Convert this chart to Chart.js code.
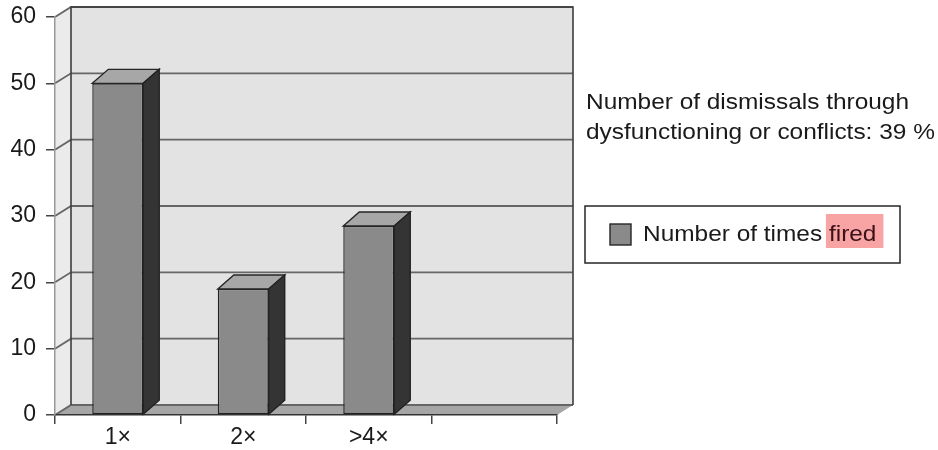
<!DOCTYPE html>
<html>
<head>
<meta charset="utf-8">
<script src="https://cdn.jsdelivr.net/npm/chart.js@4"></script>
<style>
  html, body { margin: 0; padding: 0; background: #ffffff; }
  #wrap { position: relative; width: 938px; height: 450px; }
</style>
</head>
<body>
<div id="wrap"><canvas id="c" width="938" height="450"></canvas></div>
<script>
// Categories and values
const categories = ['1\u00d7', '2\u00d7', '>4\u00d7', ''];
const timesFired = [50, 19, 28.5, null];
const yTickValues = [0, 10, 20, 30, 40, 50, 60];
const seriesLabel = 'Number of times fired';
const highlightWord = 'fired';
const noteLines = ['Number of dismissals through', 'dysfunctioning or conflicts: 39 %'];

const FONT = '"Liberation Sans", Arial, Helvetica, sans-serif';
const SIDE_TEXT_STRETCH = 1.11;

// Fake 3D depth offsets (px) for the walls and the bar prisms
const WALL_DX = 16, WALL_DY = -10;
const BAR_DX = 16, BAR_DY = -14;

function poly(ctx, pts, fill, stroke, lw) {
  ctx.beginPath();
  ctx.moveTo(pts[0][0], pts[0][1]);
  for (let i = 1; i < pts.length; i++) ctx.lineTo(pts[i][0], pts[i][1]);
  ctx.closePath();
  if (fill) { ctx.fillStyle = fill; ctx.fill(); }
  if (stroke) { ctx.strokeStyle = stroke; ctx.lineWidth = lw || 1; ctx.stroke(); }
}

// text drawn slightly wider than the font's natural width
function wideText(ctx, text, x, y) {
  ctx.save();
  ctx.translate(x, y);
  ctx.scale(SIDE_TEXT_STRETCH, 1);
  ctx.fillText(text, 0, 0);
  ctx.restore();
}

const room3d = {
  id: 'room3d',
  beforeDraw(chart) {
    const ctx = chart.ctx;
    const a = chart.chartArea;
    const ys = chart.scales.y;
    const L = a.left, R = a.right, T = a.top, B = a.bottom;
    ctx.save();
    // left side wall
    poly(ctx, [[L, T], [L + WALL_DX, T + WALL_DY], [L + WALL_DX, B + WALL_DY], [L, B]], '#ebebeb');
    // back wall
    poly(ctx, [[L + WALL_DX, T + WALL_DY], [R + WALL_DX, T + WALL_DY], [R + WALL_DX, B + WALL_DY], [L + WALL_DX, B + WALL_DY]], '#e3e3e3');
    // floor
    poly(ctx, [[L, B], [R, B], [R + WALL_DX, B + WALL_DY], [L + WALL_DX, B + WALL_DY]], '#a6a6a6');
    // gridlines along side wall and back wall
    ctx.strokeStyle = '#666666';
    ctx.lineWidth = 1.8;
    yTickValues.forEach(v => {
      const yp = ys.getPixelForValue(v);
      ctx.beginPath();
      ctx.moveTo(L, yp);
      ctx.lineTo(L + WALL_DX, yp + WALL_DY);
      ctx.lineTo(R + WALL_DX, yp + WALL_DY);
      ctx.stroke();
    });
    // back wall frame
    ctx.strokeStyle = '#3c3c3c';
    ctx.lineWidth = 1.6;
    ctx.beginPath();
    ctx.moveTo(L + WALL_DX, B + WALL_DY);
    ctx.lineTo(L + WALL_DX, T + WALL_DY);
    ctx.lineTo(R + WALL_DX, T + WALL_DY);
    ctx.lineTo(R + WALL_DX, B + WALL_DY);
    ctx.stroke();
    ctx.restore();
  },
  afterDatasetsDraw(chart) {
    const ctx = chart.ctx;
    const meta = chart.getDatasetMeta(0);
    ctx.save();
    ctx.lineJoin = 'miter';
    meta.data.forEach((el, i) => {
      if (timesFired[i] == null) return;
      const p = el.getProps(['x', 'y', 'base', 'width'], true);
      if (!isFinite(p.y)) return;
      const l = p.x - p.width / 2, r = p.x + p.width / 2;
      // top face
      poly(ctx, [[l, p.y], [r, p.y], [r + BAR_DX, p.y + BAR_DY], [l + BAR_DX, p.y + BAR_DY]], '#a7a7a7', '#262626', 1.4);
      // right side face
      poly(ctx, [[r, p.y], [r + BAR_DX, p.y + BAR_DY], [r + BAR_DX, p.base + BAR_DY], [r, p.base]], '#343434', '#222222', 1.4);
    });
    ctx.restore();
  },
  afterDraw(chart) {
    const ctx = chart.ctx;
    const ds = chart.data.datasets[0];
    ctx.save();
    ctx.fillStyle = '#1a1a1a';
    ctx.font = '22px ' + FONT;
    ctx.textBaseline = 'alphabetic';
    ctx.textAlign = 'left';
    // note text
    wideText(ctx, noteLines[0], 586, 109);
    wideText(ctx, noteLines[1], 586, 139);

    // legend box
    const bx = 585, by = 206, bw = 315, bh = 57;
    ctx.fillStyle = '#ffffff';
    ctx.fillRect(bx, by, bw, bh);
    ctx.strokeStyle = '#262626';
    ctx.lineWidth = 1.5;
    ctx.strokeRect(bx, by, bw, bh);
    // swatch
    ctx.fillStyle = ds.backgroundColor;
    ctx.fillRect(610, 224, 21, 21);
    ctx.strokeStyle = '#262626';
    ctx.lineWidth = 1.4;
    ctx.strokeRect(610, 224, 21, 21);
    // label with highlighted last word
    const label = ds.label;
    const idx = label.lastIndexOf(highlightWord);
    const pre = label.slice(0, idx);
    const tx = 643, ty = 241;
    const preW = ctx.measureText(pre).width * SIDE_TEXT_STRETCH;
    const hw = ctx.measureText(highlightWord).width * SIDE_TEXT_STRETCH;
    ctx.fillStyle = '#f8a4a4';
    ctx.fillRect(tx + preW - 3, 214, hw + 10, 34);
    ctx.fillStyle = '#1a1a1a';
    wideText(ctx, pre, tx, ty);
    ctx.fillStyle = '#3a1218';
    wideText(ctx, highlightWord, tx + preW, ty);
    ctx.restore();
  }
};

new Chart(document.getElementById('c'), {
  type: 'bar',
  data: {
    labels: categories,
    datasets: [{
      label: seriesLabel,
      data: timesFired,
      backgroundColor: '#8a8a8a',
      borderColor: '#222222',
      borderWidth: 1.4,
      borderSkipped: false,
      categoryPercentage: 1.0,
      barPercentage: 0.406
    }]
  },
  options: {
    responsive: false,
    animation: false,
    events: [],
    layout: { padding: { left: 0, top: 17, right: 381, bottom: 0 } },
    plugins: { legend: { display: false }, tooltip: { enabled: false }, title: { display: false } },
    scales: {
      x: {
        offset: true,
        grid: { offset: true, drawOnChartArea: false, drawTicks: true, tickLength: 9, color: '#444444', lineWidth: 1.5 },
        border: { display: true, color: '#333333', width: 1.5 },
        ticks: { color: '#1a1a1a', font: { family: FONT, size: 23 }, padding: 0, maxRotation: 0 },
        afterFit(s) { s.height = 35; s.paddingLeft = 0; s.paddingRight = 0; }
      },
      y: {
        min: 0, max: 60,
        afterBuildTicks(s) { s.ticks = yTickValues.map(v => ({ value: v })); },
        grid: { drawOnChartArea: false, drawTicks: true, tickLength: 9, color: '#444444', lineWidth: 1.5 },
        border: { display: true, color: '#9a9a9a', width: 1.5 },
        ticks: { color: '#1a1a1a', font: { family: FONT, size: 23 }, padding: 10 },
        afterFit(s) { s.width = 55; s.paddingTop = 0; s.paddingBottom = 0; }
      }
    }
  },
  plugins: [room3d]
});
</script>
</body>
</html>
